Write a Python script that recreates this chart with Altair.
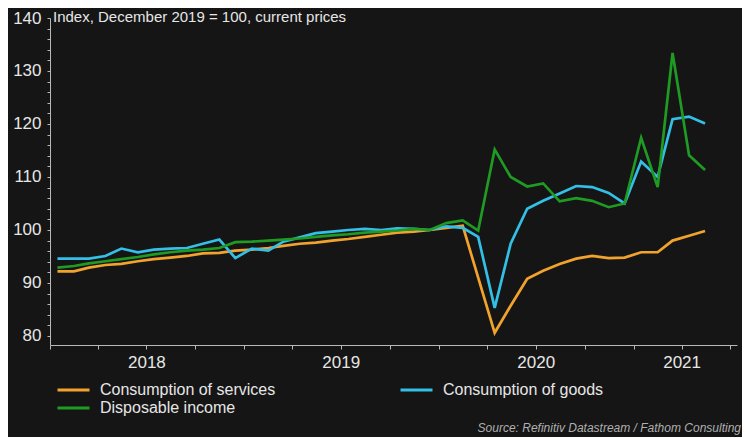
import altair as alt
import pandas as pd

# ---- data ----
months = [f"{y}-{m:02d}-15" for y in range(2018, 2022) for m in range(1, 13)][:41]

services = [92.2, 92.2, 92.9, 93.4, 93.6, 94.1, 94.5, 94.8, 95.1, 95.6, 95.7, 96.1,
            96.3, 96.6, 97.0, 97.4, 97.6, 98.0, 98.3, 98.7, 99.1, 99.5, 99.7, 100.0,
            100.4, 100.8, 91.0, 80.6, 85.7, 90.8, 92.3, 93.6, 94.6, 95.1, 94.7, 94.8,
            95.8, 95.8, 98.0, 98.9, 99.8]
goods = [94.6, 94.6, 94.6, 95.1, 96.5, 95.8, 96.3, 96.5, 96.6, 97.4, 98.2, 94.7,
         96.5, 96.1, 97.8, 98.6, 99.4, 99.7, 100.0, 100.2, 100.0, 100.3, 100.2, 100.0,
         100.7, 100.4, 98.7, 85.3, 97.4, 104.0, 105.5, 106.9, 108.3, 108.1, 107.0, 105.0,
         112.9, 110.0, 120.9, 121.4, 120.1]
income = [92.9, 93.2, 93.7, 94.1, 94.5, 94.9, 95.4, 95.8, 96.1, 96.3, 96.6, 97.7,
          97.8, 98.0, 98.2, 98.4, 98.7, 99.0, 99.2, 99.5, 99.7, 99.9, 100.2, 100.0,
          101.3, 101.8, 99.9, 115.2, 110.0, 108.2, 108.8, 105.4, 106.0, 105.5, 104.3, 105.0,
          117.4, 108.1, 133.4, 114.1, 111.3]

series_names = ["Consumption of services", "Consumption of goods", "Disposable income"]
series_colors = ["#F2A32E", "#33BFE6", "#1F9A22"]
legend_order = ["Consumption of services", "Disposable income", "Consumption of goods"]
y_ticks = list(range(80, 141, 2))
title_text = "Index, December 2019 = 100, current prices"
source_text = "Source: Refinitiv Datastream / Fathom Consulting"

rows = []
for name, vals in zip(series_names, [services, goods, income]):
    for d, v in zip(months, vals):
        rows.append({"date": d, "value": v, "series": name})
df = pd.DataFrame(rows)

FONT = "Liberation Sans"
TXT = "#E6E6E6"
AX = "#B8B8B8"

x_ticks = [alt.DateTime(year=y, month=m, date=1, utc=True)
           for y in range(2018, 2022) for m in (1, 4, 7, 10)][:15]

x_enc = alt.X(
    "date:T",
    scale=alt.Scale(type="utc",
                    domain=[alt.DateTime(year=2018, month=1, date=1, utc=True),
                            alt.DateTime(year=2021, month=7, date=14, utc=True)]),
    axis=alt.Axis(
        title=None, values=x_ticks, grid=False, domainColor=AX, tickColor=AX,
        tickSize=4, labelPadding=5, labelFontSize=17, labelColor=TXT, labelFont=FONT,
        labelOverlap=False, labelFlush=False,
        labelExpr="(utcmonth(datum.value)==6 && utcyear(datum.value)<2021) || "
                  "(utcmonth(datum.value)==3 && utcyear(datum.value)==2021) ? "
                  "utcFormat(datum.value, '%Y') : ''",
    ),
)
y_enc = alt.Y(
    "value:Q",
    scale=alt.Scale(domain=[78.3, 140], nice=False, zero=False),
    axis=alt.Axis(
        title=None, values=y_ticks, grid=False, domainColor=AX, tickColor=AX,
        tickSize=3, labelPadding=6, labelFontSize=17, labelColor=TXT, labelFont=FONT,
        labelOverlap=False, labelFlush=False,
        labelExpr="datum.value % 10 == 0 ? datum.value : ''",
    ),
)

lines = alt.Chart(df).mark_line(strokeWidth=2.7, interpolate="linear").encode(
    x=x_enc,
    y=y_enc,
    color=alt.Color(
        "series:N",
        scale=alt.Scale(domain=series_names, range=series_colors),
        legend=alt.Legend(
            title=None, orient="none", legendX=6, legendY=364, columns=2,
            values=legend_order, clipHeight=16,
            columnPadding=123, rowPadding=2, symbolType="stroke", symbolSize=1024,
            symbolStrokeWidth=3, labelFontSize=16, labelColor=TXT, labelFont=FONT,
            labelOffset=9, padding=0, labelLimit=400,
        ),
    ),
)

title = alt.Chart(pd.DataFrame({"t": [title_text]})).mark_text(
    align="left", baseline="top", fontSize=15, color=TXT, font=FONT
).encode(x=alt.value(3), y=alt.value(-8), text="t:N")

source = alt.Chart(pd.DataFrame({"t": [source_text]})).mark_text(
    align="right", baseline="middle", fontSize=12, color="#B0B0B0", font=FONT,
    fontStyle="italic"
).encode(x=alt.value(691), y=alt.value(410), text="t:N")

chart = alt.layer(lines, title, source).properties(
    width=687, height=327,
    autosize=alt.AutoSizeParams(type="none"),
    padding={"left": 42, "top": 10, "right": 5, "bottom": 92},
    background="#151515",
).configure_view(stroke=None)

chart.save("out.html", embed_options={"renderer": "svg", "actions": False})
